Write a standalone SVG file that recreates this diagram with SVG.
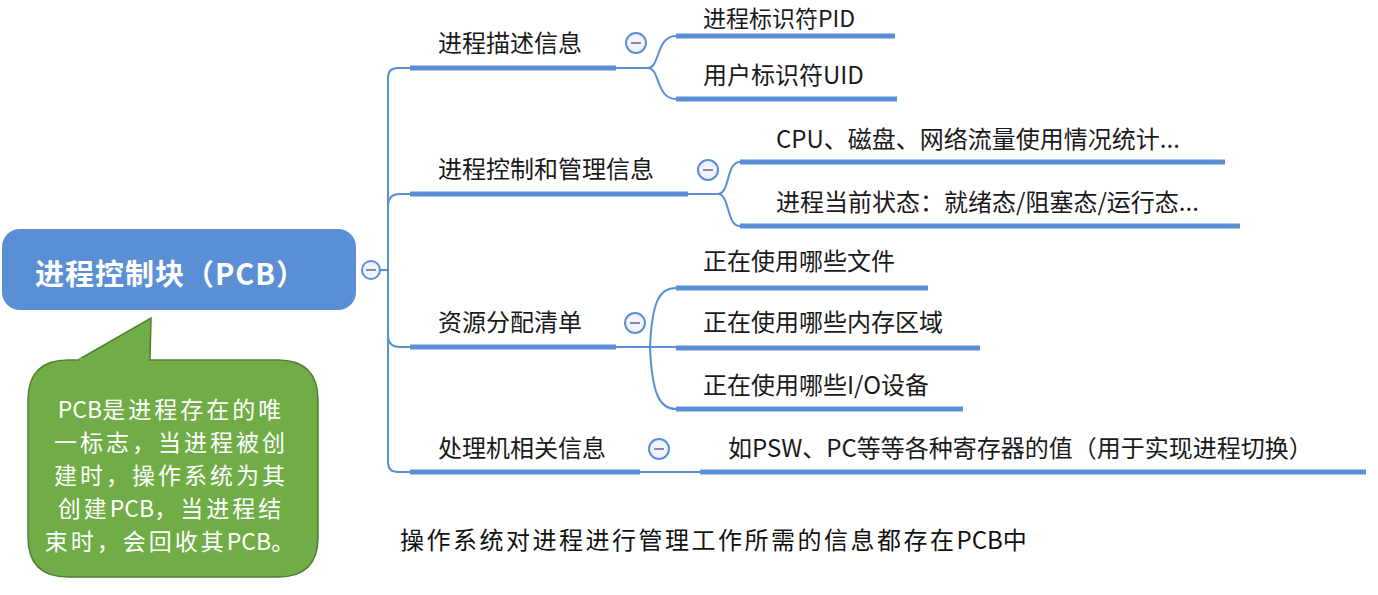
<svg xmlns="http://www.w3.org/2000/svg" width="1378" height="595" viewBox="0 0 1378 595">
<style>
.t{font-family:"Noto Sans CJK SC","Noto Sans",sans-serif;font-size:24px;fill:#1a1a1a}
.bar{stroke:#5a8fd6;stroke-width:5;fill:none}
.ln{stroke:#5a8fd6;stroke-width:2;fill:none}
.cc{fill:#f2f3fa;stroke:#5a8fd6;stroke-width:2}
.mn{stroke:#8a8aa8;stroke-width:2}
.nl{letter-spacing:0}
</style>
<rect width="1378" height="595" fill="#ffffff"/>
<g id="connectors">
<path class="ln" d="M380 270 H388"/>
<path class="ln" d="M410 68 H398 Q388 68 388 78 V462 Q388 472 398 472 H410"/>
<path class="ln" d="M388 206 Q388 194 400 194 H410"/>
<path class="ln" d="M388 335 Q388 347 400 347 H410"/>
<path class="ln" d="M616 68 H648 C660 68 656 36 676 36 M648 68 C660 68 656 99 676 99"/>
<path class="ln" d="M688 194 H718 C730 194 726 162 740 162 M718 194 C730 194 726 226 740 226"/>
<path class="ln" d="M616 347 H676 M650 347 C652 300 660 288 676 288 M650 347 C652 395 660 409 676 409"/>
<path class="ln" d="M640 472 H700"/>
</g>
<g id="root">
<rect x="2" y="229" width="354" height="81" rx="18" fill="#5a8fd6"/>
<text x="35" y="285" style="font-family:'Noto Sans CJK SC','Noto Sans',sans-serif;font-size:29px;font-weight:bold;fill:#ffffff;letter-spacing:1px">进程控制块（PCB）</text>
<circle class="cc" cx="371" cy="270" r="9"/><line class="mn" x1="366" y1="270" x2="376" y2="270"/>
</g>
<g id="n1">
<text class="t" x="438" y="52">进程描述信息</text>
<line class="bar" x1="410" y1="68" x2="616" y2="68"/>
<circle class="cc" cx="636" cy="43" r="10"/><line class="mn" x1="631" y1="43" x2="641" y2="43"/>
</g>
<g id="n1a"><text class="t" x="703" y="27" style="font-size:23px">进程标识符PID</text><line class="bar" x1="676" y1="36" x2="895" y2="36"/></g>
<g id="n1b"><text class="t" x="703" y="84">用户标识符UID</text><line class="bar" x1="676" y1="99" x2="897" y2="99"/></g>
<g id="n2">
<text class="t" x="438" y="178">进程控制和管理信息</text>
<line class="bar" x1="410" y1="194" x2="688" y2="194"/>
<circle class="cc" cx="708" cy="170" r="10"/><line class="mn" x1="703" y1="170" x2="713" y2="170"/>
</g>
<g id="n2a"><text class="t" x="776" y="148">CPU、磁盘、网络流量使用情况统计...</text><line class="bar" x1="740" y1="162" x2="1225" y2="162"/></g>
<g id="n2b"><text class="t" x="776" y="211">进程当前状态：就绪态/阻塞态/运行态...</text><line class="bar" x1="740" y1="226" x2="1240" y2="226"/></g>
<g id="n3">
<text class="t" x="438" y="331">资源分配清单</text>
<line class="bar" x1="410" y1="347" x2="616" y2="347"/>
<circle class="cc" cx="635" cy="323" r="10"/><line class="mn" x1="630" y1="323" x2="640" y2="323"/>
</g>
<g id="n3a"><text class="t" x="703" y="270">正在使用哪些文件</text><line class="bar" x1="676" y1="288" x2="928" y2="288"/></g>
<g id="n3b"><text class="t" x="703" y="331">正在使用哪些内存区域</text><line class="bar" x1="676" y1="348" x2="980" y2="348"/></g>
<g id="n3c"><text class="t" x="703" y="394">正在使用哪些I/O设备</text><line class="bar" x1="676" y1="409" x2="963" y2="409"/></g>
<g id="n4">
<text class="t" x="438" y="457">处理机相关信息</text>
<line class="bar" x1="410" y1="472" x2="640" y2="472"/>
<circle class="cc" cx="659" cy="449" r="10"/><line class="mn" x1="654" y1="449" x2="664" y2="449"/>
</g>
<g id="n4a"><text class="t" x="728" y="457">如PSW、PC等等各种寄存器的值（用于实现进程切换）</text><line class="bar" x1="700" y1="472" x2="1366" y2="472"/></g>
<g id="callout">
<path d="M68 360 H278 Q318 360 318 400 V537 Q318 577 278 577 H68 Q28 577 28 537 V400 Q28 360 68 360 Z M78 360 L151 318 L150 360" fill="#70ad47" stroke="#507e32" stroke-width="1.5"/>
<rect x="79" y="358" width="70" height="4" fill="#70ad47"/>
<g style="font-family:'Noto Sans CJK SC','Noto Sans',sans-serif;font-size:23px;fill:#ffffff;letter-spacing:3px" text-anchor="middle">
<text x="171" y="418"><tspan class="nl">PCB</tspan>是进程存在的唯</text>
<text x="171" y="451">一标志，当进程被创</text>
<text x="171" y="484">建时，操作系统为其</text>
<text x="171" y="517">创建<tspan class="nl">PCB</tspan>，当进程结</text>
<text x="171" y="550">束时，会回收其<tspan class="nl">PCB</tspan>。</text>
</g>
</g>
<text x="400" y="549" style="font-family:'Noto Sans CJK SC','Noto Sans',sans-serif;font-size:24px;fill:#111111;letter-spacing:2.5px">操作系统对进程进行管理工作所需的信息都存在<tspan class="nl">PCB</tspan>中</text>
</svg>
